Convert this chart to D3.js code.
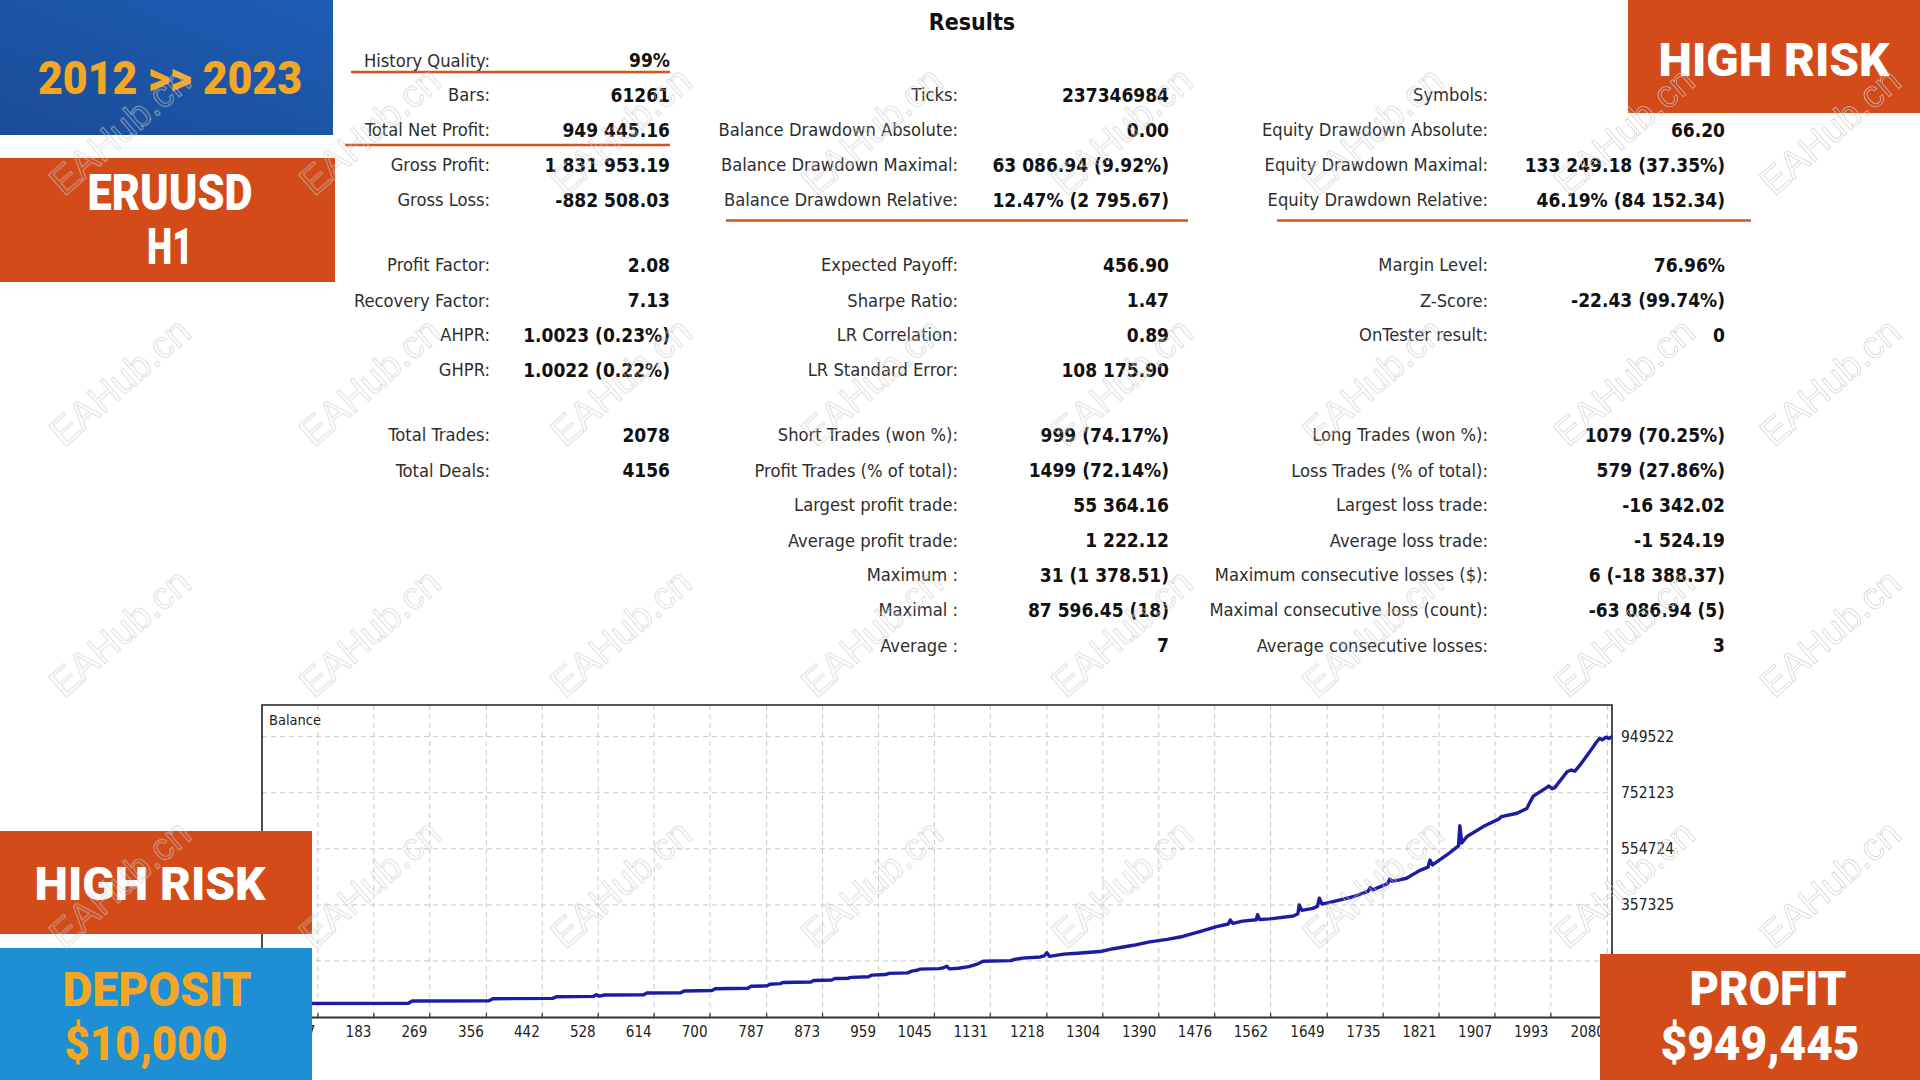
<!DOCTYPE html>
<html>
<head>
<meta charset="utf-8">
<script src="https://cdn.jsdelivr.net/npm/d3@7/dist/d3.min.js"></script>
<style>
  html, body { margin: 0; padding: 0; background: #fff; }
  svg { display: block; }
  .lbl { font-family: "DejaVu Sans Condensed", "DejaVu Sans", sans-serif; font-stretch: condensed; font-size: 18.2px; fill: #2e2e2e; }
  .val { font-family: "DejaVu Sans Condensed", "DejaVu Sans", sans-serif; font-stretch: condensed; font-size: 19px; font-weight: bold; fill: #111; }
  .tick { font-family: "DejaVu Sans Condensed", "DejaVu Sans", sans-serif; font-stretch: condensed; font-size: 15px; fill: #222; }
  .badge { font-family: "Roboto", "DejaVu Sans", sans-serif; font-weight: 900; }
  .wm { font-family: "Liberation Sans", Arial, sans-serif; font-size: 38px; fill: none; stroke: #cccccc; stroke-width: 0.75; }
</style>
</head>
<body>
<svg id="chart" width="1920" height="1080"></svg>
<script>
// ---------------- DATA ----------------
const title = "Results";

const col1Labels = ["History Quality:", "Bars:", "Total Net Profit:", "Gross Profit:", "Gross Loss:",
  "Profit Factor:", "Recovery Factor:", "AHPR:", "GHPR:", "Total Trades:", "Total Deals:"];
const col1Values = ["99%", "61261", "949 445.16", "1 831 953.19", "-882 508.03",
  "2.08", "7.13", "1.0023 (0.23%)", "1.0022 (0.22%)", "2078", "4156"];

const col2Labels = [null, "Ticks:", "Balance Drawdown Absolute:", "Balance Drawdown Maximal:", "Balance Drawdown Relative:",
  "Expected Payoff:", "Sharpe Ratio:", "LR Correlation:", "LR Standard Error:",
  "Short Trades (won %):", "Profit Trades (% of total):", "Largest profit trade:", "Average profit trade:",
  "Maximum :", "Maximal :", "Average :"];
const col2Values = [null, "237346984", "0.00", "63 086.94 (9.92%)", "12.47% (2 795.67)",
  "456.90", "1.47", "0.89", "108 175.90",
  "999 (74.17%)", "1499 (72.14%)", "55 364.16", "1 222.12",
  "31 (1 378.51)", "87 596.45 (18)", "7"];

const col3Labels = [null, "Symbols:", "Equity Drawdown Absolute:", "Equity Drawdown Maximal:", "Equity Drawdown Relative:",
  "Margin Level:", "Z-Score:", "OnTester result:", null,
  "Long Trades (won %):", "Loss Trades (% of total):", "Largest loss trade:", "Average loss trade:",
  "Maximum consecutive losses ($):", "Maximal consecutive loss (count):", "Average consecutive losses:"];
const col3Values = [null, "1", "66.20", "133 249.18 (37.35%)", "46.19% (84 152.34)",
  "76.96%", "-22.43 (99.74%)", "0", null,
  "1079 (70.25%)", "579 (27.86%)", "-16 342.02", "-1 524.19",
  "6 (-18 388.37)", "-63 086.94 (5)", "3"];

const chartLabel = "Balance";
const xTickValues = [97, 183, 269, 356, 442, 528, 614, 700, 787, 873, 959, 1045, 1131, 1218,
  1304, 1390, 1476, 1562, 1649, 1735, 1821, 1907, 1993, 2080];
const yTickValues = [949522, 752123, 554724, 357325, 159926];
const xExtent = [11, 2087];
const yExtent = [-37473, 1061063];

// balance curve: trade number -> balance
const trades = [11, 236, 242, 360, 366, 458, 464, 520, 525, 530, 538, 598, 603, 655, 660, 703, 708,
  758, 763, 787, 792, 808, 812, 855, 859, 887, 892, 912, 917, 944, 949, 970, 975, 1004, 1010,
  1018, 1023, 1052, 1058, 1064, 1068, 1082, 1098, 1112, 1120, 1162, 1168, 1180, 1208, 1214,
  1218, 1222, 1244, 1265, 1300, 1320, 1351, 1376, 1403, 1427, 1453, 1479, 1497, 1500, 1504,
  1519, 1540, 1542, 1545, 1561, 1597, 1604, 1606, 1610, 1627, 1634, 1637, 1641, 1658, 1689,
  1712, 1715, 1719, 1742, 1745, 1749, 1771, 1791, 1804, 1807, 1811, 1833, 1851, 1853, 1856,
  1864, 1889, 1913, 1917, 1941, 1956, 1960, 1966, 1987, 1990, 1995, 1999, 2018, 2024, 2030,
  2038, 2053, 2063, 2068, 2072, 2078, 2082, 2087];
const balance = [10000, 11000, 19000, 20000, 27000, 28000, 34000, 35000, 41000, 36000, 40000, 41000, 47000, 48000, 54000, 56000, 62000,
  64000, 71000, 72000, 78000, 80000, 84000, 86000, 91000, 93000, 98000, 99000, 102000, 104000, 110000, 112000, 116000, 118000, 124000,
  127000, 131000, 133000, 135000, 141000, 132000, 134000, 140000, 150000, 159000, 161000, 165000, 170000, 174000, 178000,
  189000, 176000, 184000, 187000, 193000, 203000, 215000, 227000, 236000, 246000, 263000, 281000, 290000, 304000, 292000,
  300000, 305000, 323000, 306000, 308000, 318000, 326000, 357000, 338000, 345000, 352000, 381000, 360000, 369000, 386000,
  405000, 418000, 410000, 432000, 448000, 440000, 451000, 478000, 490000, 515000, 498000, 533000, 565000, 636000, 575000,
  598000, 633000, 660000, 668000, 680000, 697000, 715000, 740000, 771000, 776000, 766000, 770000, 826000, 832000, 828000,
  850000, 897000, 930000, 944000, 938000, 948000, 943000, 949522];

// badges
const badgeTopLeft = "2012 >> 2023";
const badgeSymbol = ["ERUUSD", "H1"];
const badgeRisk = "HIGH RISK";
const badgeDeposit = ["DEPOSIT", "$10,000"];
const badgeProfit = ["PROFIT", "$949,445"];
const watermark = "EAHub.cn";

// ---------------- DRAW ----------------
const svg = d3.select("#chart");
svg.append("rect").attr("width", 1920).attr("height", 1080).attr("fill", "#fff");

// title
svg.append("text").attr("x", 972).attr("y", 22).attr("text-anchor", "middle")
  .attr("dominant-baseline", "central")
  .style("font-family", '"DejaVu Sans Condensed", "DejaVu Sans", sans-serif')
  .style("font-stretch", "condensed").style("font-weight", "bold").style("font-size", "23px").style("fill", "#111")
  .text(title);

const rowY = [60, 94.5, 129.8, 164.5, 199.6, 264.5, 300, 334.5, 369.8, 434.7, 470.2, 504.7, 540, 574.5, 609.8, 645.3];
const columns = [
  { labels: col1Labels, values: col1Values, lx: 490, vx: 670 },
  { labels: col2Labels, values: col2Values, lx: 958, vx: 1169 },
  { labels: col3Labels, values: col3Values, lx: 1488, vx: 1725 }
];
const tbl = svg.append("g");
columns.forEach(c => {
  c.labels.forEach((l, i) => {
    if (l == null) return;
    tbl.append("text").attr("class", "lbl").attr("x", c.lx).attr("y", rowY[i])
      .attr("text-anchor", "end").attr("dominant-baseline", "central").text(l);
  });
  c.values.forEach((v, i) => {
    if (v == null) return;
    tbl.append("text").attr("class", "val").attr("x", c.vx).attr("y", rowY[i])
      .attr("text-anchor", "end").attr("dominant-baseline", "central").text(v);
  });
});
// orange underlines
const underlines = [[351, 670, 72], [345, 670, 145], [726, 1188, 220.5], [1277, 1751, 220.5]];
tbl.selectAll("line.ul").data(underlines).enter().append("line")
  .attr("x1", d => d[0]).attr("x2", d => d[1]).attr("y1", d => d[2]).attr("y2", d => d[2])
  .attr("stroke", "#d4531f").attr("stroke-width", 2.6);

// ---------- balance chart ----------
const x = d3.scaleLinear().domain(xExtent).range([262, 1612]);
const y = d3.scaleLinear().domain(yExtent).range([1017, 705]);
const g = svg.append("g");

// grid
g.selectAll("line.vg").data(xTickValues).enter().append("line")
  .attr("x1", d => x(d)).attr("x2", d => x(d)).attr("y1", y(yExtent[1])).attr("y2", y(yExtent[0]))
  .attr("stroke", "#c8c8c8").attr("stroke-width", 1).attr("stroke-dasharray", "5,4");
g.selectAll("line.hg").data(yTickValues).enter().append("line")
  .attr("x1", x(xExtent[0])).attr("x2", x(xExtent[1])).attr("y1", d => y(d)).attr("y2", d => y(d))
  .attr("stroke", "#c8c8c8").attr("stroke-width", 1).attr("stroke-dasharray", "5,4");

// frame
g.append("path")
  .attr("d", `M${x(xExtent[0])},${y(yExtent[0])}V${y(yExtent[1])}H${x(xExtent[1])}V${y(yExtent[0])}`)
  .attr("fill", "none").attr("stroke", "#222").attr("stroke-width", 1.6);

// x axis
const xAxis = d3.axisBottom(x).tickValues(xTickValues).tickSize(0).tickPadding(0).tickFormat(d3.format("d"));
const xa = g.append("g").attr("transform", `translate(0,${y(yExtent[0])})`).call(xAxis);
xa.select(".domain").attr("stroke", "#333").attr("stroke-width", 2);
xa.selectAll(".tick text").attr("class", "tick").attr("text-anchor", "end")
  .attr("dx", -3).attr("dy", 0).attr("y", 15).attr("dominant-baseline", "central");
// tiny tick marks
g.selectAll("line.tm").data(xTickValues).enter().append("line")
  .attr("x1", d => x(d)).attr("x2", d => x(d)).attr("y1", y(yExtent[0]) - 4).attr("y2", y(yExtent[0]))
  .attr("stroke", "#333").attr("stroke-width", 1.2);

// y axis (right)
const yAxis = d3.axisRight(y).tickValues(yTickValues).tickSize(0).tickPadding(0).tickFormat(d3.format("d"));
const ya = g.append("g").attr("transform", `translate(${x(xExtent[1]) + 9},0)`).call(yAxis);
ya.select(".domain").remove();
ya.selectAll(".tick text").attr("class", "tick").style("font-size", "15.5px").attr("dy", "0.3em").attr("x", 0);

// label
g.append("text").attr("x", x(xExtent[0]) + 7).attr("y", y(yExtent[1]) + 15)
  .attr("dominant-baseline", "central")
  .style("font-family", '"DejaVu Sans Condensed", "DejaVu Sans", sans-serif')
  .style("font-stretch", "condensed").style("font-size", "14.5px").style("fill", "#222").text(chartLabel);

// balance line
const pts = trades.map((t, i) => [t, balance[i]]);
const line = d3.line().x(d => x(d[0])).y(d => y(d[1])).curve(d3.curveLinear);
g.append("path").datum(pts).attr("d", line).attr("fill", "none")
  .attr("stroke", "#1c1ca3").attr("stroke-width", 3.4).attr("stroke-linejoin", "round");

// ---------- badges ----------
function badge(x0, y0, w, h, fill, lines, color, fontSize, lineYs, textCx, widths) {
  const bg = svg.append("g");
  bg.append("rect").attr("x", x0).attr("y", y0).attr("width", w).attr("height", h).attr("fill", fill);
  lines.forEach((t, i) => {
    bg.append("text").attr("class", "badge").attr("x", textCx[i]).attr("y", lineYs[i])
      .attr("text-anchor", "middle").attr("dominant-baseline", "central")
      .attr("textLength", widths[i]).attr("lengthAdjust", "spacingAndGlyphs")
      .style("font-size", fontSize + "px").style("fill", color).text(t);
  });
  return bg;
}
const orange = "#d24b19";
// top-left blue gradient
const defs = svg.append("defs");
const lg = defs.append("linearGradient").attr("id", "blueg").attr("x1", 0).attr("y1", 1).attr("x2", 1).attr("y2", 0);
lg.append("stop").attr("offset", 0).attr("stop-color", "#1b4c98");
lg.append("stop").attr("offset", 1).attr("stop-color", "#1d5db4");

badge(0, 0, 333, 135, "url(#blueg)", [badgeTopLeft], "#f5a623", 46, [78], [170], [264]);
badge(0, 158, 335, 124, orange, badgeSymbol, "#ffffff", 50, [193, 247], [170, 170], [165, 46]);
badge(1628, 0, 292, 113, orange, [badgeRisk], "#ffffff", 46, [60], [1774], [231]);
badge(0, 831, 312, 103, orange, [badgeRisk], "#ffffff", 46, [884], [150], [231]);
badge(0, 948, 312, 132, "#1e8ed5", badgeDeposit, "#f5a623", 48, [989, 1043], [157, 146], [189, 163]);
badge(1600, 954, 320, 126, orange, badgeProfit, "#ffffff", 48, [988, 1043], [1768, 1760], [157, 199]);

// ---------- watermarks ----------
const wmX = [120, 370, 621, 872, 1122, 1373, 1624, 1830];
const wmY = [131, 382, 633, 884];
const wm = svg.append("g").attr("opacity", 0.85);
wmY.forEach(yy => wmX.forEach(xx => {
  wm.append("text").attr("class", "wm").attr("text-anchor", "middle").attr("dominant-baseline", "central")
    .attr("transform", `translate(${xx},${yy}) rotate(-41)`).text(watermark);
}));
</script>
</body>
</html>
